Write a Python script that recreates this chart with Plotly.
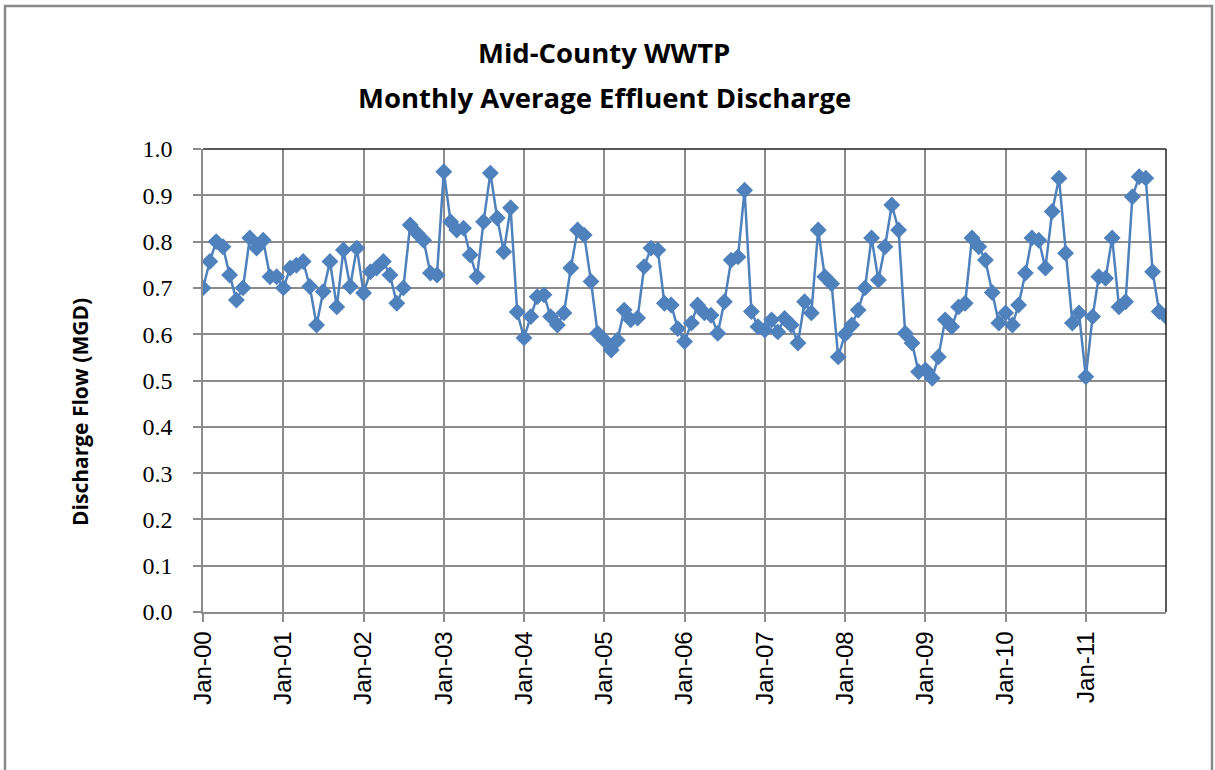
import pandas as pd
import plotly.graph_objects as go

# Monthly average effluent discharge (MGD), Jan 2000 through Jan 2012
discharge_mgd = [
    0.700, 0.757, 0.800, 0.789, 0.728, 0.674, 0.700, 0.808, 0.786, 0.803, 0.724, 0.724,
    0.700, 0.743, 0.749, 0.757, 0.703, 0.620, 0.692, 0.757, 0.659, 0.782, 0.703, 0.786,
    0.689, 0.735, 0.743, 0.757, 0.728, 0.667, 0.700, 0.836, 0.818, 0.803, 0.732, 0.728,
    0.951, 0.843, 0.825, 0.829, 0.771, 0.724, 0.843, 0.948, 0.851, 0.778, 0.873, 0.648,
    0.592, 0.638, 0.681, 0.685, 0.638, 0.620, 0.646, 0.743, 0.825, 0.814, 0.714, 0.602,
    0.587, 0.566, 0.587, 0.652, 0.631, 0.635, 0.746, 0.786, 0.782, 0.667, 0.663, 0.612,
    0.584, 0.624, 0.663, 0.646, 0.641, 0.602, 0.670, 0.760, 0.767, 0.911, 0.649, 0.616,
    0.609, 0.631, 0.605, 0.634, 0.620, 0.581, 0.670, 0.646, 0.825, 0.724, 0.709, 0.551,
    0.600, 0.620, 0.652, 0.700, 0.808, 0.717, 0.789, 0.879, 0.825, 0.602, 0.581, 0.519,
    0.523, 0.505, 0.551, 0.631, 0.616, 0.659, 0.667, 0.808, 0.789, 0.760, 0.690, 0.624,
    0.646, 0.620, 0.663, 0.732, 0.808, 0.803, 0.743, 0.865, 0.937, 0.775, 0.624, 0.646,
    0.508, 0.638, 0.724, 0.721, 0.808, 0.659, 0.670, 0.897, 0.940, 0.937, 0.735, 0.649,
    0.638,
]
months = pd.date_range("2000-01-01", periods=len(discharge_mgd), freq="MS")

tick_dates = pd.date_range("2000-01-01", "2011-01-01", freq="YS")
tick_labels = ["Jan-00", "Jan-01", "Jan-02", "Jan-03", "Jan-04", "Jan-05",
               "Jan-06", "Jan-07", "Jan-08", "Jan-09", "Jan-10", "Jan-11"]
y_ticks = [0.0, 0.1, 0.2, 0.3, 0.4, 0.5, 0.6, 0.7, 0.8, 0.9, 1.0]
y_tick_labels = ["0.0", "0.1", "0.2", "0.3", "0.4", "0.5", "0.6", "0.7", "0.8", "0.9", "1.0"]

W, H = 1215, 770
L, R, T, B = 203, 49, 149, 158
pw, ph = W - L - R, H - T - B


def px_x(x):
    return (x - L) / pw


def px_y(y):
    return (H - B - y) / ph


BLUE = "#4F81BD"
GRID = "#8c8c8c"
TITLE_FONT = "Open Sans, Lato"

fig = go.Figure()
fig.add_trace(go.Scatter(
    x=months, y=discharge_mgd, mode="lines+markers",
    line=dict(color=BLUE, width=2.5),
    marker=dict(symbol="diamond", size=13, color=BLUE),
    showlegend=False,
))

fig.update_layout(
    width=W, height=H,
    margin=dict(l=L, r=R, t=T, b=B),
    paper_bgcolor="white", plot_bgcolor="white",
    xaxis=dict(
        range=[months[0], pd.Timestamp("2012-01-01")],
        tickvals=tick_dates, ticktext=tick_labels,
        tickangle=-90,
        tickfont=dict(family="Liberation Sans, Arial", size=24, color="black"),
        ticks="outside", ticklen=8, tickcolor=GRID, tickwidth=1.5,
        showgrid=True, gridcolor=GRID, gridwidth=1.5,
        showline=True, linecolor=GRID, linewidth=1.5,
        zeroline=False,
    ),
    yaxis=dict(
        range=[0, 1.0],
        tickvals=y_ticks, ticktext=y_tick_labels,
        tickfont=dict(family="Liberation Serif, Times New Roman", size=24, color="black"),
        ticks="outside", ticklen=8, tickcolor=GRID, tickwidth=1.5,
        ticklabelstandoff=16,
        showgrid=True, gridcolor=GRID, gridwidth=1.5,
        showline=True, linecolor=GRID, linewidth=1.5,
        zeroline=False,
    ),
    shapes=[
        # outer chart frame
        dict(type="rect", xref="paper", yref="paper",
             x0=px_x(5), x1=px_x(1212), y0=px_y(800), y1=px_y(6),
             line=dict(color="#8a8a8a", width=2.5), fillcolor="rgba(0,0,0,0)", layer="below"),
        # dark top and right edges of the plot area
        dict(type="line", xref="paper", yref="paper", x0=0, x1=1, y0=1, y1=1,
             line=dict(color="#222222", width=1.5)),
        dict(type="line", xref="paper", yref="paper", x0=1, x1=1, y0=0, y1=1,
             line=dict(color="#222222", width=1.5)),
    ],
    annotations=[
        dict(text="<b>Mid-County WWTP</b>", xref="paper", yref="paper",
             x=px_x(604), y=px_y(73), xanchor="center", yanchor="bottom",
             showarrow=False, font=dict(family=TITLE_FONT, size=27.5, color="black")),
        dict(text="<b>Monthly Average Effluent Discharge</b>", xref="paper", yref="paper",
             x=px_x(604), y=px_y(118), xanchor="center", yanchor="bottom",
             showarrow=False, font=dict(family=TITLE_FONT, size=27.5, color="black")),
        dict(text="<b>Discharge Flow (MGD)</b>", xref="paper", yref="paper",
             x=px_x(80), y=px_y(412), xanchor="center", yanchor="middle",
             textangle=-90, showarrow=False,
             font=dict(family=TITLE_FONT, size=21, color="black")),
    ],
)

fig.write_html("out.html")
